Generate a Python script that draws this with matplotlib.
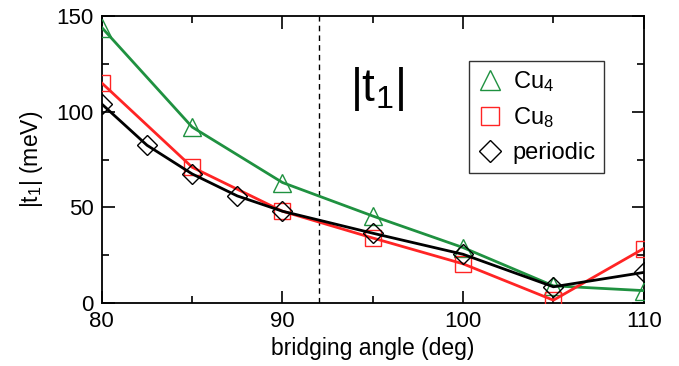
import matplotlib
matplotlib.use("Agg")
import matplotlib.pyplot as plt
from matplotlib.ticker import MultipleLocator

plt.rcParams["font.family"] = ["Liberation Sans", "DejaVu Sans"]
plt.rcParams["mathtext.fontset"] = "custom"
plt.rcParams["mathtext.rm"] = "Liberation Sans"
plt.rcParams["mathtext.it"] = "Liberation Sans"

# data
angle = [80, 85, 90, 95, 100, 105, 110]
cu4 = [144, 92, 63, 45.5, 29, 9, 6.5]
cu8 = [115, 71, 48, 34, 20.5, 1.5, 28.5]
per_angle = [80, 82.5, 85, 87.5, 90, 95, 100, 105, 110]
periodic = [104, 82.5, 67.5, 56, 48, 36.5, 25.5, 8.5, 16]
marker_angle = 92

GREEN = "#1f9140"
RED = "#ff2424"

fig = plt.figure(figsize=(6.79, 3.66), dpi=100)
ax = fig.add_axes([0.150, 0.172, 0.798, 0.784])

ax.plot(angle, cu4, color=GREEN, lw=2.0, marker="^", ms=12.5, mfc="none",
        mec=GREEN, mew=1.0, label="Cu$_4$", zorder=3)
ax.plot(angle, cu8, color=RED, lw=2.0, marker="s", ms=11.5, mfc="none",
        mec=RED, mew=1.0, label="Cu$_8$", zorder=3)
ax.plot(per_angle, periodic, color="black", lw=2.0, marker="D", ms=10.5, mfc="none",
        mec="black", mew=1.0, label="periodic", zorder=4)

ax.axvline(marker_angle, color="black", lw=1.0, ls=(0, (4, 3)), zorder=1)

ax.text(0.507, 0.745, r"$|\mathrm{t}_1|$", transform=ax.transAxes,
        fontsize=33, ha="center", va="center")

ax.set_xlim(80, 110)
ax.set_ylim(0, 150)
ax.xaxis.set_major_locator(MultipleLocator(10))
ax.xaxis.set_minor_locator(MultipleLocator(5))
ax.yaxis.set_major_locator(MultipleLocator(50))
ax.yaxis.set_minor_locator(MultipleLocator(25))
ax.tick_params(which="both", direction="in", top=True, right=True, width=1.2,
               labelsize=16, pad=6)
ax.tick_params(which="major", length=9)
ax.tick_params(which="minor", length=5)
for s in ax.spines.values():
    s.set_linewidth(1.3)

ax.set_xlabel("bridging angle (deg)", fontsize=16.5, labelpad=3)
ax.set_ylabel(r"$|\mathrm{t}_1|$ (meV)", fontsize=16.5, labelpad=8)

leg = ax.legend(loc="upper left", bbox_to_anchor=(0.678, 0.845), fontsize=17,
                frameon=True, fancybox=False, edgecolor="black",
                handlelength=1.1, handletextpad=0.4, borderpad=0.35,
                labelspacing=0.5, markerscale=1.1, borderaxespad=0)
leg.get_frame().set_linewidth(1.0)
for h in leg.legend_handles:
    h.set_linestyle("none")

fig.savefig("out.png", dpi=100)
